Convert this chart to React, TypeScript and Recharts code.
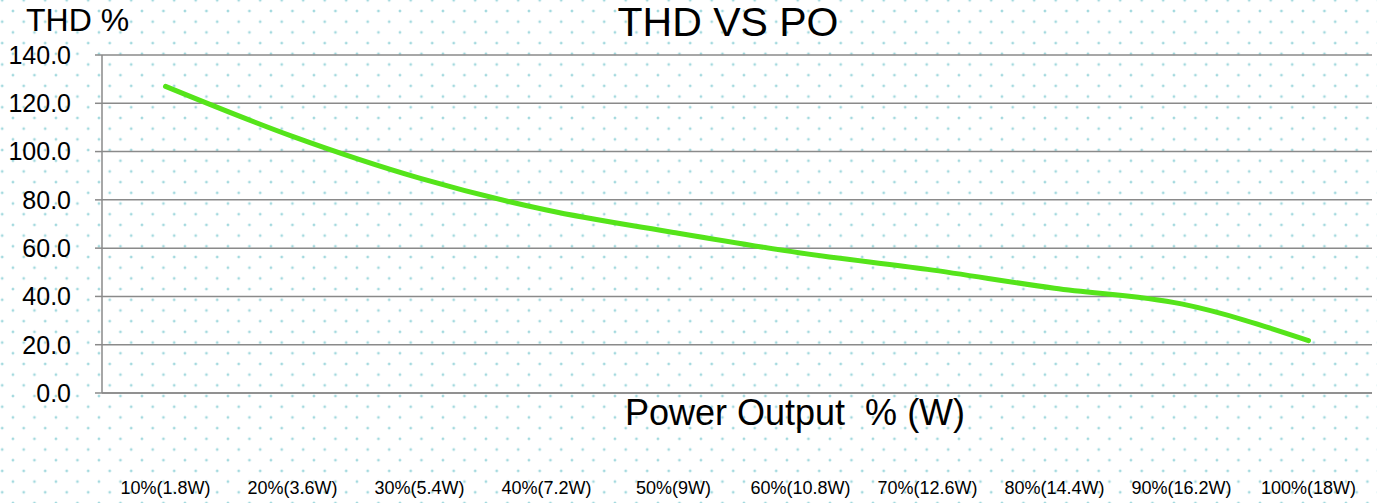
import React from 'react';
import { LineChart, Line, XAxis, YAxis, CartesianGrid } from 'recharts';

const categories = [
  '10%(1.8W)', '20%(3.6W)', '30%(5.4W)', '40%(7.2W)', '50%(9W)',
  '60%(10.8W)', '70%(12.6W)', '80%(14.4W)', '90%(16.2W)', '100%(18W)',
];
const thdValues = [127, 106.3, 89, 75.8, 66.5, 58, 51.2, 43.4, 36.9, 21.7];
const yTicks = [0, 20, 40, 60, 80, 100, 120, 140];

const chartTitle = 'THD VS PO';
const yTitle = 'THD %';
const xTitle = 'Power Output  % (W)';

const data = categories.map((c, i) => ({ label: c, thd: thdValues[i] }));

const FONT = '"Liberation Sans", Arial, Helvetica, sans-serif';
const GRID = '#8a8a8a';

export default function App() {
  return (
    <div
      style={{
        position: 'absolute',
        left: 0,
        top: 0,
        width: 1377,
        height: 503,
        backgroundColor: '#ffffff',
        backgroundImage:
          'radial-gradient(circle, #a3d9de 0, #a3d9de 1.1px, rgba(255,255,255,0) 1.7px), radial-gradient(circle, #a3d9de 0, #a3d9de 1.1px, rgba(255,255,255,0) 1.7px)',
        backgroundSize: '21.5px 21.4px, 21.5px 21.4px',
        backgroundPosition: '-8.55px -10.4px, 2.2px 0.3px',
        fontFamily: FONT,
      }}
    >
      <LineChart
        width={1377}
        height={503}
        data={data}
        margin={{ top: 55, right: 5, bottom: 0, left: 0 }}
        style={{ position: 'absolute', left: 0, top: 0 }}
      >
        <CartesianGrid vertical={false} stroke={GRID} strokeWidth={1.5} strokeDasharray="" />
        <XAxis
          dataKey="label"
          height={110}
          padding={{ left: 63.5, right: 63.5 }}
          axisLine={{ stroke: GRID, strokeWidth: 1.5 }}
          tickLine={false}
          tickSize={0}
          tickMargin={88.5}
          interval={0}
          tick={{ fill: '#000', fontSize: 18, fontFamily: FONT }}
        />
        <YAxis
          width={102}
          domain={[0, 140]}
          ticks={yTicks}
          interval={0}
          tickFormatter={(v: number) => v.toFixed(1)}
          axisLine={{ stroke: GRID, strokeWidth: 1.5 }}
          tickLine={{ stroke: GRID, strokeWidth: 1.5 }}
          tickSize={7}
          tickMargin={24}
          tick={{ fill: '#000', fontSize: 25, fontFamily: FONT }}
        />
        <Line
          type="monotone"
          dataKey="thd"
          stroke="#55e41a"
          strokeWidth={5}
          strokeLinecap="round"
          strokeLinejoin="round"
          dot={false}
          activeDot={false}
          isAnimationActive={false}
        />
      </LineChart>
      <svg
        width={1377}
        height={503}
        style={{ position: 'absolute', left: 0, top: 0, pointerEvents: 'none' }}
      >
        <text x={26} y={31} fontSize={32} fontFamily={FONT} fill="#000">
          {yTitle}
        </text>
        <text x={728} y={36} fontSize={41} fontFamily={FONT} fill="#000" textAnchor="middle">
          {chartTitle}
        </text>
        <text
          x={625}
          y={425}
          fontSize={36}
          fontFamily={FONT}
          fill="#000"
          style={{ whiteSpace: 'pre' }}
        >
          {xTitle}
        </text>
      </svg>
    </div>
  );
}
